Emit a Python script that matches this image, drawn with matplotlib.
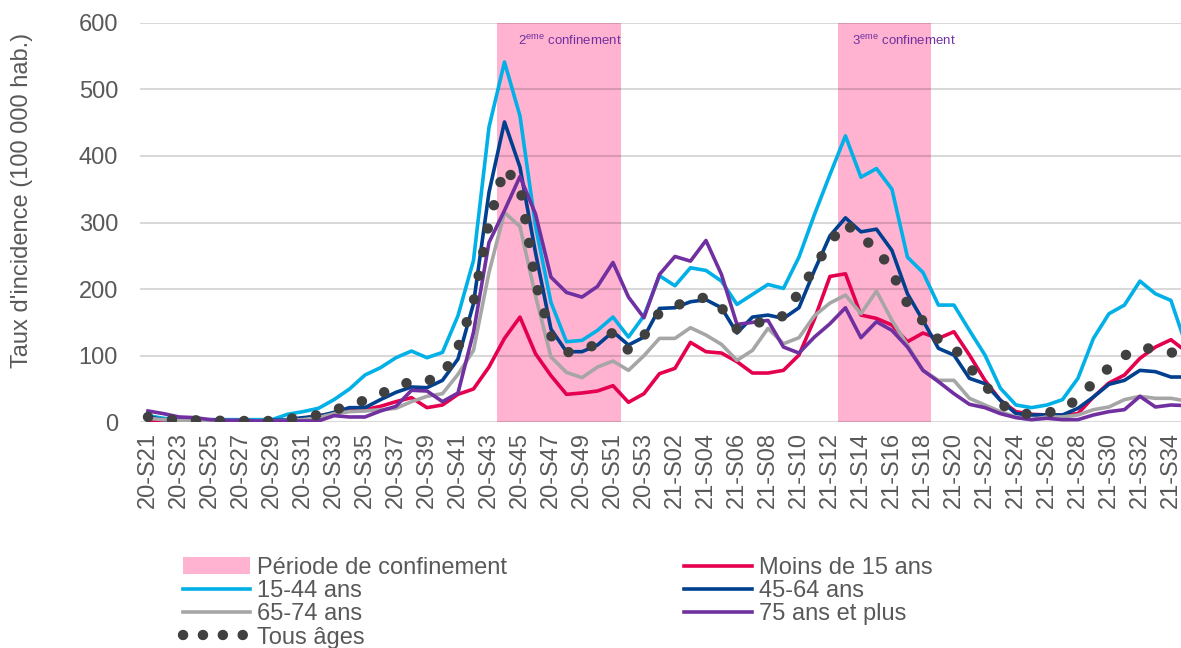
import matplotlib
matplotlib.use("Agg")
import matplotlib.pyplot as plt
from matplotlib.lines import Line2D
from matplotlib.patches import Patch
import numpy as np

plt.rcParams['font.family'] = ['Liberation Sans', 'DejaVu Sans']

# weeks 20-S21 .. 21-S35 (last one is cut by the right edge)
weeks = [f"20-S{w}" for w in range(21, 54)] + [f"21-S{w:02d}" for w in range(1, 36)]

# incidence rates per 100 000 inhabitants
moins_15 = [3, 2, 1, 1, 1, 1, 1, 1, 2, 4, 6, 10, 13, 17, 19, 24, 31, 37, 22, 26,
            42, 50, 83, 126, 158, 103, 70, 42, 44, 47, 55, 30, 43, 73, 81, 120, 106, 104, 91, 74,
            74, 78, 101, 155, 219, 223, 161, 156, 146, 121, 134, 126, 136, 101, 63, 33, 16, 12, 11, 11,
            13, 38, 59, 71, 96, 113, 124, 106]
ans_15_44 = [10, 6, 4, 4, 4, 4, 4, 4, 4, 12, 16, 21, 34, 50, 71, 82, 97, 107, 97, 105,
             160, 243, 443, 541, 460, 295, 180, 121, 123, 138, 158, 128, 160, 220, 205, 232, 228, 212, 177, 192,
             207, 201, 248, 312, 372, 430, 368, 381, 350, 248, 225, 176, 176, 138, 101, 51, 26, 22, 26, 34,
             66, 126, 163, 176, 212, 193, 183, 114]
ans_45_64 = [8, 4, 3, 2, 2, 2, 2, 2, 3, 4, 7, 9, 15, 22, 22, 34, 45, 53, 52, 63,
             95, 178, 345, 451, 383, 255, 140, 106, 106, 116, 136, 116, 128, 171, 172, 181, 184, 172, 134, 158,
             161, 156, 172, 228, 280, 307, 286, 290, 258, 193, 153, 111, 101, 66, 58, 33, 13, 11, 11, 11,
             21, 38, 57, 63, 78, 76, 68, 68]
ans_65_74 = [6, 4, 3, 2, 2, 2, 2, 2, 2, 3, 4, 7, 13, 16, 17, 19, 21, 31, 39, 43,
             72, 108, 225, 315, 294, 190, 98, 75, 67, 83, 92, 78, 100, 126, 126, 142, 131, 117, 93, 108,
             141, 118, 127, 160, 179, 191, 163, 197, 153, 116, 78, 63, 63, 36, 26, 16, 8, 4, 8, 8,
             11, 19, 23, 34, 39, 36, 36, 32]
ans_75_plus = [17, 13, 8, 7, 4, 3, 3, 2, 2, 2, 2, 2, 10, 8, 8, 17, 24, 48, 47, 31,
               44, 135, 270, 318, 369, 313, 218, 195, 188, 204, 240, 188, 157, 222, 249, 242, 273, 222, 147, 150,
               153, 113, 104, 128, 148, 172, 127, 151, 138, 113, 78, 61, 43, 27, 22, 13, 7, 4, 6, 4,
               4, 11, 16, 19, 39, 23, 26, 25]
tous_ages = [8, 5, 3, 3, 3, 2, 2, 2, 2, 5, 8, 11, 18, 26, 33, 43, 52, 62, 62, 70,
             112, 180, 300, 382, 355, 210, 130, 105, 108, 118, 135, 108, 130, 165, 175, 182, 188, 172, 140, 150,
             150, 160, 195, 232, 270, 300, 275, 264, 225, 178, 152, 124, 112, 83, 56, 28, 14, 12, 14, 20,
             35, 60, 82, 100, 112, 110, 105, 100]
# lockdown periods (2nd: 20-S44..20-S51, 3rd: 21-S13..21-S18)
confinement = [0] * 23 + [600] * 8 + [0] * 14 + [600] * 6 + [0] * 17

x = np.arange(len(weeks))
txt = '#595959'

fig = plt.figure(figsize=(11.81, 6.48), dpi=100)
ax = fig.add_axes([140.25 / 1181, 1 - 422.3 / 648, 1040.75 / 1181, 399.6 / 648])

ax.bar(x, confinement, width=1.0, color='#ffb3d0', zorder=0.5, label='Période de confinement')

series = [
    (moins_15, '#e5004f', 'Moins de 15 ans'),
    (ans_15_44, '#00b0e6', '15-44 ans'),
    (ans_45_64, '#00408f', '45-64 ans'),
    (ans_65_74, '#a6a6a6', '65-74 ans'),
    (ans_75_plus, '#7030a0', '75 ans et plus'),
]
for vals, col, lab in series:
    ax.plot(x, vals, color=col, lw=2.6, solid_joinstyle='round', zorder=3, label=lab)

ax.plot(x, tous_ages, color='#404040', lw=7.5, linestyle=(0, (0.01, 2.3)),
        dash_capstyle='round', zorder=4, label='Tous âges')

ax.set_xlim(-0.5, 66.65)
ax.set_ylim(0, 600)
ax.set_yticks(range(0, 601, 100))
ax.set_xticks(x[:67:2])
ax.set_xticklabels(weeks[:67:2], rotation=90)
ax.tick_params(axis='both', length=0, labelsize=17, labelcolor=txt)
ax.tick_params(axis='y', pad=16)
ax.tick_params(axis='x', pad=7)
ax.grid(axis='y', color='black', alpha=0.15, lw=1.5, zorder=1)
ax.set_axisbelow(False)
for s in ax.spines.values():
    s.set_visible(False)

ax.set_ylabel("Taux d'incidence (100 000 hab.)", fontsize=17, color=txt)
ax.yaxis.set_label_coords(-0.103, 0.556)

ax.text(23.9, 572, r'2$^{\mathregular{eme}}$ confinement', fontsize=9.5, color='#7030a0',
        va='center', ha='left', zorder=5)
ax.text(45.4, 572, r'3$^{\mathregular{eme}}$ confinement', fontsize=9.5, color='#7030a0',
        va='center', ha='left', zorder=5)

# legend: left column then right column
h = {l: hd for hd, l in zip(*ax.get_legend_handles_labels())}
dots = Line2D([], [], color='#404040', lw=7.5, linestyle=(0, (0.01, 1.9)), dash_capstyle='round')
pink = Patch(facecolor='#ffb3d0')
handles = [pink, h['15-44 ans'], h['65-74 ans'], dots,
           h['Moins de 15 ans'], h['45-64 ans'], h['75 ans et plus']]
labels = ['Période de confinement', '15-44 ans', '65-74 ans', 'Tous âges',
          'Moins de 15 ans', '45-64 ans', '75 ans et plus']
fig.legend(handles, labels, loc='upper left', bbox_to_anchor=(183 / 1181, 1 - 557 / 648),
           ncol=2, frameon=False, fontsize=17, labelcolor=txt, borderpad=0, borderaxespad=0,
           handlelength=2.85, handletextpad=0.3, columnspacing=7.5, labelspacing=0.05)

fig.savefig('out.png', dpi=100)
